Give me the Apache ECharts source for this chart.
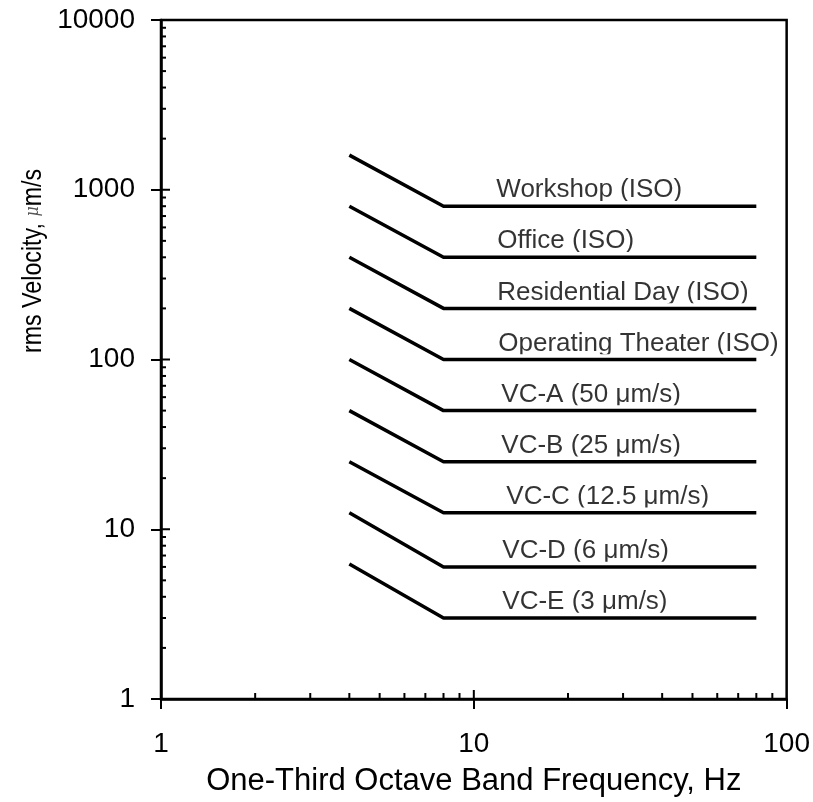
<!DOCTYPE html>
<html>
<head>
<meta charset="utf-8">
<script src="https://cdn.jsdelivr.net/npm/echarts@6/dist/echarts.min.js"></script>
<style>
  html, body { margin: 0; padding: 0; background: #ffffff; }
  #chart { width: 813px; height: 802px; }
</style>
</head>
<body>
<div id="chart"></div>
<script>
// One-third octave band frequencies where each criterion curve bends (Hz)
const frequencies = [4, 8, 80];

// Criterion curves: rms velocity (µm/s) at each frequency above
const workshop    = [1600, 800, 800];
const office      = [800, 400, 400];
const residential = [400, 200, 200];
const operating   = [200, 100, 100];
const vcA         = [100, 50, 50];
const vcB         = [50, 25, 25];
const vcC         = [25, 12.5, 12.5];
const vcD         = [12.5, 6, 6];
const vcE         = [6.25, 3, 3];

const curveNames = [
  'Workshop (ISO)',
  'Office (ISO)',
  'Residential Day (ISO)',
  'Operating Theater (ISO)',
  'VC-A (50 \u03bcm/s)',
  'VC-B (25 \u03bcm/s)',
  'VC-C (12.5 \u03bcm/s)',
  'VC-D (6 \u03bcm/s)',
  'VC-E (3 \u03bcm/s)'
];
const curveValues = [workshop, office, residential, operating, vcA, vcB, vcC, vcD, vcE];

// Axis tick values
const xMinorTicks = [2, 3, 4, 5, 6, 7, 8, 9, 20, 30, 40, 50, 60, 70, 80, 90];
const yMinorTicks = [
  2, 3, 4, 5, 6, 7, 8, 9,
  20, 30, 40, 50, 60, 70, 80, 90,
  200, 300, 400, 500, 600, 700, 800, 900,
  2000, 3000, 4000, 5000, 6000, 7000, 8000, 9000
];

// ---- layout / style ----
const FONT = '"Liberation Sans", Arial, Helvetica, sans-serif';
const LABEL_FREQ = 11.8;                          // where curve captions start
const labelNudge = [0, 1, 1, 2, 5, 5, 10, 6, 6];  // small horizontal nudges (px)

const chart = echarts.init(document.getElementById('chart'), null, { renderer: 'canvas' });

const lineSeries = curveNames.map(function (name, i) {
  return {
    name: name,
    type: 'line',
    z: 5,
    symbol: 'none',
    silent: true,
    data: frequencies.map(function (f, k) { return [f, curveValues[i][k]]; }),
    lineStyle: {
      color: '#000',
      width: 3.5,
      cap: 'butt',
      // a white offset copy trims caption descenders just above the line
      shadowColor: '#ffffff',
      shadowBlur: 0,
      shadowOffsetY: -3.5
    }
  };
});

const captionSeries = {
  type: 'scatter',
  z: 2,
  silent: true,
  symbolSize: 1,
  itemStyle: { color: 'rgba(0,0,0,0)' },
  data: curveNames.map(function (name, i) {
    return {
      value: [LABEL_FREQ, curveValues[i][2]],
      name: name,
      label: { offset: [labelNudge[i], -16] }
    };
  }),
  label: {
    show: true,
    position: 'inside',
    align: 'left',
    verticalAlign: 'middle',
    formatter: function (p) { return p.name; },
    color: '#000',
    fontFamily: FONT,
    fontSize: 26
  }
};

function tickSeries(values, horizontal, len) {
  return {
    type: 'custom',
    z: 6,
    silent: true,
    clip: false,
    data: values.map(function (v) { return horizontal ? [1, v] : [v, 1]; }),
    renderItem: function (params, api) {
      const p = api.coord([api.value(0), api.value(1)]);
      return {
        type: 'line',
        shape: horizontal
          ? { x1: p[0], y1: p[1], x2: p[0] + len, y2: p[1] }
          : { x1: p[0], y1: p[1], x2: p[0], y2: p[1] - len },
        style: { stroke: '#000', lineWidth: 2 }
      };
    }
  };
}

function plainNumber(v) { return String(Math.round(v)); }

const option = {
  backgroundColor: '#ffffff',
  animation: false,
  grid: {
    left: 161, right: 26, top: 20, bottom: 100,
    show: true,
    borderColor: '#000',
    borderWidth: 2.5,
    backgroundColor: 'transparent'
  },
  xAxis: {
    type: 'log',
    logBase: 10,
    min: 1, max: 100,
    name: 'One-Third Octave Band Frequency, Hz',
    nameLocation: 'middle',
    nameGap: 67,
    nameTextStyle: { color: '#000', fontFamily: FONT, fontSize: 31 },
    axisLine: { show: true, lineStyle: { color: '#000', width: 2.5 } },
    axisTick: { show: true, inside: false, length: 10, lineStyle: { color: '#000', width: 2 } },
    axisLabel: { color: '#000', fontFamily: FONT, fontSize: 28, margin: 31, formatter: plainNumber },
    splitLine: { show: false }
  },
  yAxis: {
    type: 'log',
    logBase: 10,
    min: 1, max: 10000,
    axisLine: { show: true, lineStyle: { color: '#000', width: 2.5 } },
    axisTick: { show: true, inside: false, length: 10, lineStyle: { color: '#000', width: 2 } },
    axisLabel: { color: '#000', fontFamily: FONT, fontSize: 28, margin: 26, formatter: plainNumber },
    splitLine: { show: false }
  },
  graphic: [{
    type: 'text',
    x: 33,
    y: 261,
    rotation: Math.PI / 2,
    scaleX: 0.83,
    style: {
      text: 'rms Velocity, {mu|\u03bc}m/s',
      fill: '#000',
      font: '28px ' + FONT,
      align: 'center',
      verticalAlign: 'middle',
      rich: {
        mu: { fontFamily: '"DejaVu Serif", serif', fontStyle: 'italic', fontSize: 19, fill: '#555', color: '#555' }
      }
    }
  }],
  series: lineSeries.concat([
    captionSeries,
    tickSeries(xMinorTicks, false, 6),
    tickSeries([10], false, 9),
    tickSeries(yMinorTicks, true, 5),
    tickSeries([10, 100, 1000], true, 9)
  ])
};

chart.setOption(option);
</script>
</body>
</html>
